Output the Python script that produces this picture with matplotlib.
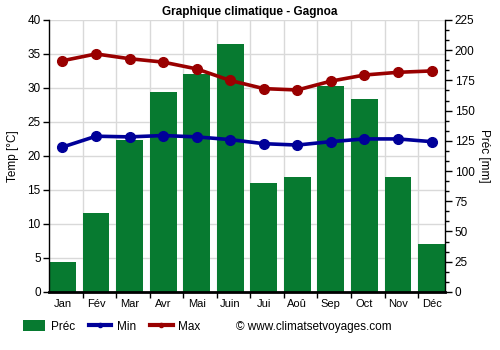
import matplotlib
matplotlib.use("Agg")
import matplotlib.pyplot as plt
from matplotlib.patches import Patch
from matplotlib.lines import Line2D
import numpy as np

plt.rcParams['font.family'] = ['Liberation Sans', 'DejaVu Sans']

months = ["Jan", "Fév", "Mar", "Avr", "Mai", "Juin", "Jui", "Aoû", "Sep", "Oct", "Nov", "Déc"]
precip = [25, 65, 126, 165, 180, 205, 90, 95, 170, 160, 95, 40]
t_min = [21.3, 22.9, 22.8, 23.0, 22.8, 22.4, 21.8, 21.6, 22.1, 22.5, 22.5, 22.1]
t_max = [34.0, 35.0, 34.3, 33.8, 32.8, 31.1, 29.9, 29.7, 31.0, 31.9, 32.3, 32.5]

GREEN = "#077a30"
RED = "#990000"
BLUE = "#000099"
GRID = "#d9d9d9"

fig = plt.figure(figsize=(5, 3.5), dpi=100)
x = np.arange(len(months))
w = 0.8
xlim = (-w / 2, len(months) - 1 + w / 2)

# precipitation axis (drawn underneath)
axp = fig.add_axes([0.098, 0.166, 0.792, 0.777])
axp.set_xlim(*xlim)
axp.set_ylim(0, 225)
# grid lines matching the temperature scale (every 5 °C)
for t in range(5, 41, 5):
    axp.axhline(t * 225 / 40, color=GRID, lw=1, zorder=0)
for xi in x[1:]:
    axp.axvline(xi - w / 2, color=GRID, lw=1, zorder=0)
axp.bar(x, precip, width=w, color=GREEN, zorder=2)
axp.yaxis.tick_right()
axp.yaxis.set_label_position("right")
axp.set_yticks(np.arange(0, 226, 25))
axp.set_yticks(np.arange(0, 226, 25 / 3), minor=True)
axp.tick_params(axis='y', which='major', length=5, width=1, labelsize=8.5, pad=2)
axp.tick_params(axis='y', which='minor', length=3, width=1)
axp.set_xticks(x[1:] - w / 2, minor=True)
axp.set_xticks(x)
axp.set_xticklabels(months)
axp.tick_params(axis='x', which='major', length=0, labelsize=8, pad=5)
axp.tick_params(axis='x', which='minor', length=4, width=1)
axp.set_ylabel("Préc [mm]", rotation=270, labelpad=11, fontsize=8.5)
for s in ["top", "left"]:
    axp.spines[s].set_visible(False)
axp.spines["bottom"].set_linewidth(2)
axp.spines["right"].set_linewidth(1)

# temperature axis (drawn on top)
axt = fig.add_axes(axp.get_position(), sharex=axp)
axt.patch.set_visible(False)
axt.set_ylim(0, 40)
axt.set_yticks(np.arange(0, 41, 5))
axt.tick_params(axis='y', length=4, width=1, labelsize=8.5, pad=2)
axt.tick_params(axis='x', which='both', length=0, labelbottom=False)
axt.plot(x, t_max, color=RED, lw=2.6, marker='o', ms=7, zorder=5)
axt.plot(x, t_min, color=BLUE, lw=2.6, marker='o', ms=7, zorder=5)
axt.set_ylabel("Temp [°C]", fontsize=8.5, labelpad=6)
for s in ["top", "right", "bottom"]:
    axt.spines[s].set_visible(False)
axt.spines["left"].set_linewidth(1)

fig.text(0.5, 0.965, "Graphique climatique - Gagnoa", ha='center', va='center',
         fontsize=8.5, fontweight='bold')

handles = [
    Patch(facecolor=GREEN, edgecolor='none'),
    Line2D([0], [0], color=BLUE, lw=3, marker='o', ms=3),
    Line2D([0], [0], color=RED, lw=3, marker='o', ms=3),
]
fig.legend(handles, ["Préc", "Min", "Max"], loc='center left',
           bbox_to_anchor=(0.046, 0.067), ncol=3, frameon=False,
           fontsize=8.5, handlelength=1.9, handleheight=1.0,
           columnspacing=1.2, handletextpad=0.45, borderpad=0, borderaxespad=0)
fig.text(0.472, 0.067, "© www.climatsetvoyages.com", ha='left', va='center', fontsize=8.5)

fig.savefig("out.png", dpi=100)
